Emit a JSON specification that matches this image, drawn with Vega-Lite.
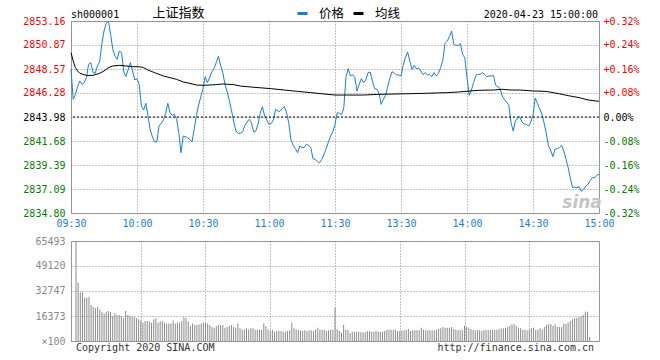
{
"$schema": "https://vega.github.io/schema/vega-lite/v6.json",
"background": "white",
"padding": {"left": 22, "top": 6, "right": 10, "bottom": 4},
"bounds": "flush",
"spacing": 28,
"config": {
  "view": {"stroke": "#999999", "strokeWidth": 1},
  "font": "DejaVu Sans Mono",
  "axis": {"labelFont": "DejaVu Sans Mono", "labelFontSize": 10, "ticks": false, "domain": false, "title": null, "grid": true, "gridColor": "#888888", "gridOpacity": 1, "gridDash": [1, 2], "gridWidth": 1, "labelFlush": false, "labelOverlap": false, "labelBound": false}
},
"datasets": {
"minutes": [
{"t":0,"p":2848.54,"v":65493},{"t":1,"p":2845.67,"v":38200},{"t":2,"p":2846.15,"v":31700},{"t":3,"p":2846.88,"v":32100},{"t":4,"p":2847.42,"v":28400},
{"t":5,"p":2847.10,"v":28400},{"t":6,"p":2847.26,"v":29000},{"t":7,"p":2847.74,"v":23600},{"t":8,"p":2849.02,"v":22300},{"t":9,"p":2849.18,"v":21400},
{"t":10,"p":2848.22,"v":22300},{"t":11,"p":2848.16,"v":20700},{"t":12,"p":2848.86,"v":19000},{"t":13,"p":2849.24,"v":18000},{"t":14,"p":2850.93,"v":19200},
{"t":15,"p":2852.20,"v":19600},{"t":16,"p":2852.94,"v":19000},{"t":17,"p":2853.16,"v":16400},{"t":18,"p":2851.89,"v":18100},{"t":19,"p":2850.45,"v":17000},
{"t":20,"p":2849.81,"v":17000},{"t":21,"p":2849.50,"v":16400},{"t":22,"p":2850.29,"v":14900},{"t":23,"p":2850.13,"v":19600},{"t":24,"p":2848.28,"v":17000},
{"t":25,"p":2847.84,"v":16400},{"t":26,"p":2848.54,"v":15700},{"t":27,"p":2849.18,"v":15700},{"t":28,"p":2848.38,"v":14900},{"t":29,"p":2847.52,"v":14200},
{"t":30,"p":2847.65,"v":13500},{"t":31,"p":2847.10,"v":12000},{"t":32,"p":2845.03,"v":13100},{"t":33,"p":2844.65,"v":13100},{"t":34,"p":2845.29,"v":12700},
{"t":35,"p":2844.08,"v":12000},{"t":36,"p":2842.74,"v":14200},{"t":37,"p":2842.10,"v":14900},{"t":38,"p":2841.62,"v":12000},{"t":39,"p":2841.59,"v":12700},
{"t":40,"p":2843.12,"v":13100},{"t":41,"p":2843.37,"v":12000},{"t":42,"p":2843.69,"v":11400},{"t":43,"p":2844.33,"v":11400},{"t":44,"p":2845.29,"v":11400},
{"t":45,"p":2844.39,"v":13500},{"t":46,"p":2844.14,"v":11400},{"t":47,"p":2844.24,"v":12000},{"t":48,"p":2843.76,"v":12000},{"t":49,"p":2842.48,"v":13100},
{"t":50,"p":2840.57,"v":15700},{"t":51,"p":2842.16,"v":14900},{"t":52,"p":2842.10,"v":12700},{"t":53,"p":2842.00,"v":9800},{"t":54,"p":2841.84,"v":11400},
{"t":55,"p":2841.59,"v":10500},{"t":56,"p":2842.80,"v":10500},{"t":57,"p":2844.14,"v":10900},{"t":58,"p":2845.10,"v":11400},{"t":59,"p":2845.92,"v":12000},
{"t":60,"p":2846.69,"v":12000},{"t":61,"p":2847.84,"v":11400},{"t":62,"p":2847.26,"v":10500},{"t":63,"p":2847.74,"v":9200},{"t":64,"p":2848.28,"v":8700},
{"t":65,"p":2848.60,"v":9800},{"t":66,"p":2849.18,"v":10500},{"t":67,"p":2849.78,"v":10500},{"t":68,"p":2848.92,"v":10500},{"t":69,"p":2848.22,"v":8700},
{"t":70,"p":2847.10,"v":9200},{"t":71,"p":2846.37,"v":9800},{"t":72,"p":2845.51,"v":10500},{"t":73,"p":2844.55,"v":9200},{"t":74,"p":2843.50,"v":8700},
{"t":75,"p":2842.64,"v":11400},{"t":76,"p":2842.42,"v":8300},{"t":77,"p":2842.42,"v":7600},{"t":78,"p":2842.55,"v":7600},{"t":79,"p":2843.18,"v":8300},
{"t":80,"p":2843.50,"v":7600},{"t":81,"p":2843.76,"v":8300},{"t":82,"p":2843.44,"v":8300},{"t":83,"p":2842.55,"v":7400},{"t":84,"p":2842.64,"v":7400},
{"t":85,"p":2843.28,"v":7400},{"t":86,"p":2844.33,"v":7400},{"t":87,"p":2844.97,"v":11400},{"t":88,"p":2844.08,"v":9800},{"t":89,"p":2843.69,"v":7600},
{"t":90,"p":2843.28,"v":6900},{"t":91,"p":2843.37,"v":7400},{"t":92,"p":2843.69,"v":6100},{"t":93,"p":2844.71,"v":6550},{"t":94,"p":2844.55,"v":6550},
{"t":95,"p":2844.52,"v":6550},{"t":96,"p":2844.78,"v":6100},{"t":97,"p":2844.97,"v":6100},{"t":98,"p":2844.39,"v":6550},{"t":99,"p":2843.37,"v":6990},
{"t":100,"p":2841.78,"v":12000},{"t":101,"p":2841.27,"v":8300},{"t":102,"p":2840.95,"v":7600},{"t":103,"p":2840.57,"v":7400},{"t":104,"p":2841.21,"v":6990},
{"t":105,"p":2841.05,"v":6550},{"t":106,"p":2841.05,"v":6990},{"t":107,"p":2841.37,"v":6550},{"t":108,"p":2841.27,"v":6990},{"t":109,"p":2841.05,"v":6990},
{"t":110,"p":2839.99,"v":6550},{"t":111,"p":2839.93,"v":7600},{"t":112,"p":2839.71,"v":8700},{"t":113,"p":2839.61,"v":7400},{"t":114,"p":2839.93,"v":7400},
{"t":115,"p":2840.41,"v":7400},{"t":116,"p":2840.95,"v":6550},{"t":117,"p":2841.59,"v":6990},{"t":118,"p":2842.16,"v":7400},{"t":119,"p":2842.55,"v":7400},
{"t":120,"p":2843.28,"v":21830},{"t":121,"p":2844.39,"v":7640},{"t":122,"p":2844.33,"v":6550},{"t":123,"p":2844.20,"v":5460},{"t":124,"p":2844.87,"v":10480},
{"t":125,"p":2847.84,"v":7420},{"t":126,"p":2848.60,"v":7420},{"t":127,"p":2847.90,"v":5240},{"t":128,"p":2848.03,"v":6110},{"t":129,"p":2847.77,"v":6110},
{"t":130,"p":2846.47,"v":6110},{"t":131,"p":2847.10,"v":6110},{"t":132,"p":2847.65,"v":5680},{"t":133,"p":2847.26,"v":5680},{"t":134,"p":2847.52,"v":5680},
{"t":135,"p":2848.22,"v":6550},{"t":136,"p":2848.28,"v":6550},{"t":137,"p":2847.42,"v":6110},{"t":138,"p":2846.69,"v":6110},{"t":139,"p":2846.66,"v":6550},
{"t":140,"p":2846.24,"v":6110},{"t":141,"p":2845.19,"v":6110},{"t":142,"p":2845.67,"v":6110},{"t":143,"p":2846.05,"v":6550},{"t":144,"p":2846.94,"v":7420},
{"t":145,"p":2847.74,"v":7420},{"t":146,"p":2848.32,"v":7420},{"t":147,"p":2848.16,"v":7420},{"t":148,"p":2848.00,"v":7420},{"t":149,"p":2848.00,"v":6550},
{"t":150,"p":2847.90,"v":6550},{"t":151,"p":2848.92,"v":6990},{"t":152,"p":2849.69,"v":6990},{"t":153,"p":2850.20,"v":7420},{"t":154,"p":2849.34,"v":7860},
{"t":155,"p":2848.54,"v":6550},{"t":156,"p":2848.92,"v":6990},{"t":157,"p":2848.60,"v":6990},{"t":158,"p":2848.67,"v":6990},{"t":159,"p":2848.38,"v":6990},
{"t":160,"p":2848.03,"v":8730},{"t":161,"p":2848.22,"v":7420},{"t":162,"p":2848.03,"v":6990},{"t":163,"p":2848.03,"v":6990},{"t":164,"p":2847.84,"v":6990},
{"t":165,"p":2848.22,"v":6990},{"t":166,"p":2847.90,"v":6990},{"t":167,"p":2848.16,"v":7420},{"t":168,"p":2848.70,"v":7860},{"t":169,"p":2849.40,"v":8300},
{"t":170,"p":2851.02,"v":9170},{"t":171,"p":2851.22,"v":8730},{"t":172,"p":2851.66,"v":8730},{"t":173,"p":2852.20,"v":8730},{"t":174,"p":2850.93,"v":9170},
{"t":175,"p":2850.83,"v":7860},{"t":176,"p":2850.83,"v":7420},{"t":177,"p":2850.99,"v":6990},{"t":178,"p":2849.97,"v":6990},{"t":179,"p":2849.65,"v":7420},
{"t":180,"p":2847.74,"v":9820},{"t":181,"p":2846.05,"v":9170},{"t":182,"p":2846.56,"v":8730},{"t":183,"p":2847.26,"v":7860},{"t":184,"p":2847.96,"v":7420},
{"t":185,"p":2848.06,"v":6990},{"t":186,"p":2848.06,"v":6990},{"t":187,"p":2848.22,"v":6990},{"t":188,"p":2848.06,"v":6550},{"t":189,"p":2847.84,"v":6990},
{"t":190,"p":2847.90,"v":7420},{"t":191,"p":2847.90,"v":6990},{"t":192,"p":2847.96,"v":6990},{"t":193,"p":2847.04,"v":7420},{"t":194,"p":2846.88,"v":7420},
{"t":195,"p":2846.72,"v":7420},{"t":196,"p":2845.99,"v":7640},{"t":197,"p":2845.67,"v":8300},{"t":198,"p":2845.41,"v":8300},{"t":199,"p":2845.10,"v":8730},
{"t":200,"p":2843.44,"v":9170},{"t":201,"p":2842.64,"v":9820},{"t":202,"p":2843.60,"v":10920},{"t":203,"p":2843.85,"v":10920},{"t":204,"p":2844.01,"v":9820},
{"t":205,"p":2843.50,"v":8730},{"t":206,"p":2843.31,"v":8300},{"t":207,"p":2843.28,"v":7420},{"t":208,"p":2843.12,"v":7420},{"t":209,"p":2843.50,"v":6990},
{"t":210,"p":2844.14,"v":7420},{"t":211,"p":2845.80,"v":8300},{"t":212,"p":2845.29,"v":8730},{"t":213,"p":2844.78,"v":7420},{"t":214,"p":2844.27,"v":7420},
{"t":215,"p":2843.44,"v":8300},{"t":216,"p":2842.48,"v":7420},{"t":217,"p":2841.27,"v":9170},{"t":218,"p":2840.82,"v":10480},{"t":219,"p":2840.19,"v":10920},
{"t":220,"p":2840.89,"v":10920},{"t":221,"p":2840.95,"v":9820},{"t":222,"p":2841.05,"v":10920},{"t":223,"p":2841.27,"v":9170},{"t":224,"p":2840.73,"v":9170},
{"t":225,"p":2839.93,"v":9170},{"t":226,"p":2839.14,"v":11350},{"t":227,"p":2838.11,"v":11350},{"t":228,"p":2837.22,"v":12010},{"t":229,"p":2837.28,"v":13100},
{"t":230,"p":2837.22,"v":14190},{"t":231,"p":2837.32,"v":14850},{"t":232,"p":2836.87,"v":15280},{"t":233,"p":2837.06,"v":15720},{"t":234,"p":2837.38,"v":16150},
{"t":235,"p":2837.54,"v":17030},{"t":236,"p":2837.89,"v":19210},{"t":237,"p":2838.18,"v":19210},{"t":238,"p":2838.18,"v":2620},{"t":239,"p":2838.40,"v":0},
{"t":240,"p":2838.50,"v":0}
],
"avg": [
{"t":0,"a":2850.13},{"t":1,"a":2849.34},{"t":2,"a":2848.70},{"t":3,"a":2848.38},{"t":4,"a":2848.16},{"t":7,"a":2847.96},{"t":10,"a":2847.96},
{"t":13,"a":2848.16},{"t":15,"a":2848.38},{"t":17,"a":2848.70},{"t":19,"a":2848.86},{"t":22,"a":2848.92},{"t":25,"a":2848.86},{"t":28,"a":2848.79},
{"t":31,"a":2848.79},{"t":33,"a":2848.70},{"t":35,"a":2848.47},{"t":38,"a":2848.22},{"t":40,"a":2848.06},{"t":42,"a":2847.90},{"t":45,"a":2847.74},
{"t":48,"a":2847.58},{"t":51,"a":2847.33},{"t":54,"a":2847.20},{"t":57,"a":2847.04},{"t":60,"a":2847.01},{"t":66,"a":2847.07},{"t":69,"a":2847.14},
{"t":74,"a":2847.07},{"t":77,"a":2846.94},{"t":80,"a":2846.88},{"t":85,"a":2846.79},{"t":91,"a":2846.69},{"t":97,"a":2846.56},{"t":103,"a":2846.43},
{"t":109,"a":2846.31},{"t":115,"a":2846.18},{"t":120,"a":2846.08},{"t":133,"a":2846.08},{"t":140,"a":2846.15},{"t":152,"a":2846.20},{"t":160,"a":2846.24},
{"t":171,"a":2846.31},{"t":176,"a":2846.37},{"t":185,"a":2846.53},{"t":192,"a":2846.56},{"t":196,"a":2846.63},{"t":200,"a":2846.56},{"t":204,"a":2846.56},
{"t":210,"a":2846.47},{"t":216,"a":2846.43},{"t":222,"a":2846.20},{"t":226,"a":2846.02},{"t":231,"a":2845.83},{"t":235,"a":2845.61},{"t":240,"a":2845.48}
]
},
"vconcat": [
{
  "width": 528, "height": 192,
  "resolve": {"axis": {"x": "independent", "y": "independent"}},
  "layer": [
    {
      "data": {"name": "minutes"},
      "mark": {"type": "line", "strokeWidth": 1},
      "encoding": {
        "x": {"field": "t", "type": "quantitative", "scale": {"domain": [0, 240], "nice": false, "zero": false},
              "axis": {"values": [0, 30, 60, 90, 120, 150, 180, 210, 240], "labelExpr": "['09:30','10:00','10:30','11:00','11:30','13:30','14:00','14:30','15:00'][datum.value/30]", "labelColor": "#1b7fcb", "grid": true, "gridColor": "#888888", "gridDash": [1, 2], "labelPadding": 5}},
        "y": {"field": "p", "type": "quantitative", "scale": {"domain": [2834.80, 2853.16], "nice": false, "zero": false},
              "axis": {"orient": "left", "values": [2834.80, 2837.09, 2839.39, 2841.68, 2843.98, 2846.28, 2848.57, 2850.87, 2853.16], "format": ".2f", "grid": true, "gridColor": "#888888", "gridDash": [1, 2], "labelPadding": 6,
                       "labelColor": {"condition": [{"test": "datum.value > 2844", "value": "#ff0000"}, {"test": "datum.value < 2843.9", "value": "#008000"}], "value": "#000000"}}},
        "color": {"datum": "价格", "scale": {"domain": ["价格", "均线"], "range": ["#1b7fcb", "#000000"]},
                  "legend": {"orient": "none", "legendX": 225, "legendY": -14, "direction": "horizontal", "title": null, "symbolType": "stroke", "symbolSize": 100, "symbolStrokeWidth": 3,
                             "labelFont": "Noto Sans CJK SC", "labelFontSize": 12.5, "labelOffset": 10, "columnPadding": 2, "padding": 0,
                             "encode": {"labels": {"fill": {"condition": {"test": "datum.value === '价格'", "value": "#1b7fcb"}, "value": "#000000"}}}}}
      }
    },
    {
      "data": {"name": "avg"},
      "mark": {"type": "line", "strokeWidth": 1},
      "encoding": {
        "x": {"field": "t", "type": "quantitative", "scale": {"domain": [0, 240], "nice": false, "zero": false}, "axis": null},
        "y": {"field": "a", "type": "quantitative", "scale": {"domain": [2834.80, 2853.16], "nice": false, "zero": false},
              "axis": {"orient": "right", "values": [2834.80, 2837.09, 2839.39, 2841.68, 2843.98, 2846.28, 2848.57, 2850.87, 2853.16], "grid": false, "labelPadding": 4,
                       "labelExpr": "datum.value > 2844 ? '+' + format(datum.value / 2843.98 * 100 - 100, '.2f') + '%' : (datum.value < 2843.9 ? '-' + format(100 - datum.value / 2843.98 * 100, '.2f') + '%' : '0.00%')",
                       "labelColor": {"condition": [{"test": "datum.value > 2844", "value": "#ff0000"}, {"test": "datum.value < 2843.9", "value": "#008000"}], "value": "#000000"}}},
        "color": {"datum": "均线"}
      }
    },
    {
      "data": {"values": [{}]},
      "mark": {"type": "rule", "color": "#000000", "strokeDash": [2, 2], "strokeWidth": 1},
      "encoding": {"y": {"datum": 2843.98, "type": "quantitative", "scale": {"domain": [2834.80, 2853.16], "nice": false, "zero": false}, "axis": null}}
    },
    {
      "data": {"values": [{"s": "sh000001"}]},
      "mark": {"type": "text", "align": "left", "baseline": "middle", "font": "DejaVu Sans Mono", "fontSize": 10, "color": "#000000"},
      "encoding": {
        "x": {"datum": 0, "type": "quantitative", "scale": {"domain": [0, 240], "nice": false, "zero": false}, "axis": null},
        "y": {"datum": 2853.78, "type": "quantitative", "scale": {"domain": [2834.80, 2853.16], "nice": false, "zero": false}, "axis": null},
        "text": {"field": "s"}
      }
    },
    {
      "data": {"values": [{"s": "上证指数"}]},
      "mark": {"type": "text", "align": "left", "baseline": "middle", "font": "Noto Sans CJK SC", "fontSize": 13, "color": "#000000"},
      "encoding": {
        "x": {"datum": 37.1, "type": "quantitative", "scale": {"domain": [0, 240], "nice": false, "zero": false}, "axis": null},
        "y": {"datum": 2853.88, "type": "quantitative", "scale": {"domain": [2834.80, 2853.16], "nice": false, "zero": false}, "axis": null},
        "text": {"field": "s"}
      }
    },
    {
      "data": {"values": [{"s": "2020-04-23 15:00:00"}]},
      "mark": {"type": "text", "align": "right", "baseline": "middle", "font": "DejaVu Sans Mono", "fontSize": 10, "color": "#000000"},
      "encoding": {
        "x": {"datum": 239.6, "type": "quantitative", "scale": {"domain": [0, 240], "nice": false, "zero": false}, "axis": null},
        "y": {"datum": 2853.78, "type": "quantitative", "scale": {"domain": [2834.80, 2853.16], "nice": false, "zero": false}, "axis": null},
        "text": {"field": "s"}
      }
    },
    {
      "data": {"values": [{"s": "sina"}]},
      "mark": {"type": "text", "align": "center", "baseline": "middle", "font": "DejaVu Sans", "fontSize": 17, "fontWeight": "bold", "fontStyle": "italic", "color": "#c4c4c4"},
      "encoding": {
        "x": {"datum": 232.3, "type": "quantitative", "scale": {"domain": [0, 240], "nice": false, "zero": false}, "axis": null},
        "y": {"datum": 2835.8, "type": "quantitative", "scale": {"domain": [2834.80, 2853.16], "nice": false, "zero": false}, "axis": null},
        "text": {"field": "s"}
      }
    }
  ]
},
{
  "width": 528, "height": 100,
  "resolve": {"axis": {"x": "independent", "y": "independent"}},
  "layer": [
    {
      "data": {"name": "minutes"},
      "mark": {"type": "bar", "color": "#8a8a8a", "width": 1},
      "encoding": {
        "x": {"field": "t", "type": "quantitative", "scale": {"domain": [0, 240], "nice": false, "zero": false},
              "axis": {"values": [30, 60, 90, 120, 150, 180, 210], "labels": false, "grid": true, "gridColor": "#888888", "gridDash": [1, 2]}},
        "y": {"field": "v", "type": "quantitative", "scale": {"domain": [0, 65493], "nice": false},
              "axis": {"values": [0, 16373, 32747, 49120, 65493], "format": "d", "labelExpr": "datum.value == 0 ? '×100' : datum.label", "labelColor": "#888888", "grid": true, "gridColor": "#888888", "gridDash": [1, 2], "labelPadding": 6}}
      }
    },
    {
      "data": {"values": [{"s": "Copyright 2020 SINA.COM"}]},
      "mark": {"type": "text", "align": "left", "baseline": "middle", "font": "DejaVu Sans Mono", "fontSize": 10, "color": "#333333"},
      "encoding": {
        "x": {"datum": 0, "type": "quantitative", "scale": {"domain": [0, 240], "nice": false, "zero": false}, "axis": null},
        "y": {"datum": -4600, "type": "quantitative", "scale": {"domain": [0, 65493], "nice": false}, "axis": null},
        "text": {"field": "s"}
      }
    },
    {
      "data": {"values": [{"s": "http://finance.sina.com.cn"}]},
      "mark": {"type": "text", "align": "right", "baseline": "middle", "font": "DejaVu Sans Mono", "fontSize": 10, "color": "#333333"},
      "encoding": {
        "x": {"datum": 240, "type": "quantitative", "scale": {"domain": [0, 240], "nice": false, "zero": false}, "axis": null},
        "y": {"datum": -4600, "type": "quantitative", "scale": {"domain": [0, 65493], "nice": false}, "axis": null},
        "text": {"field": "s"}
      }
    }
  ]
}
]
}
